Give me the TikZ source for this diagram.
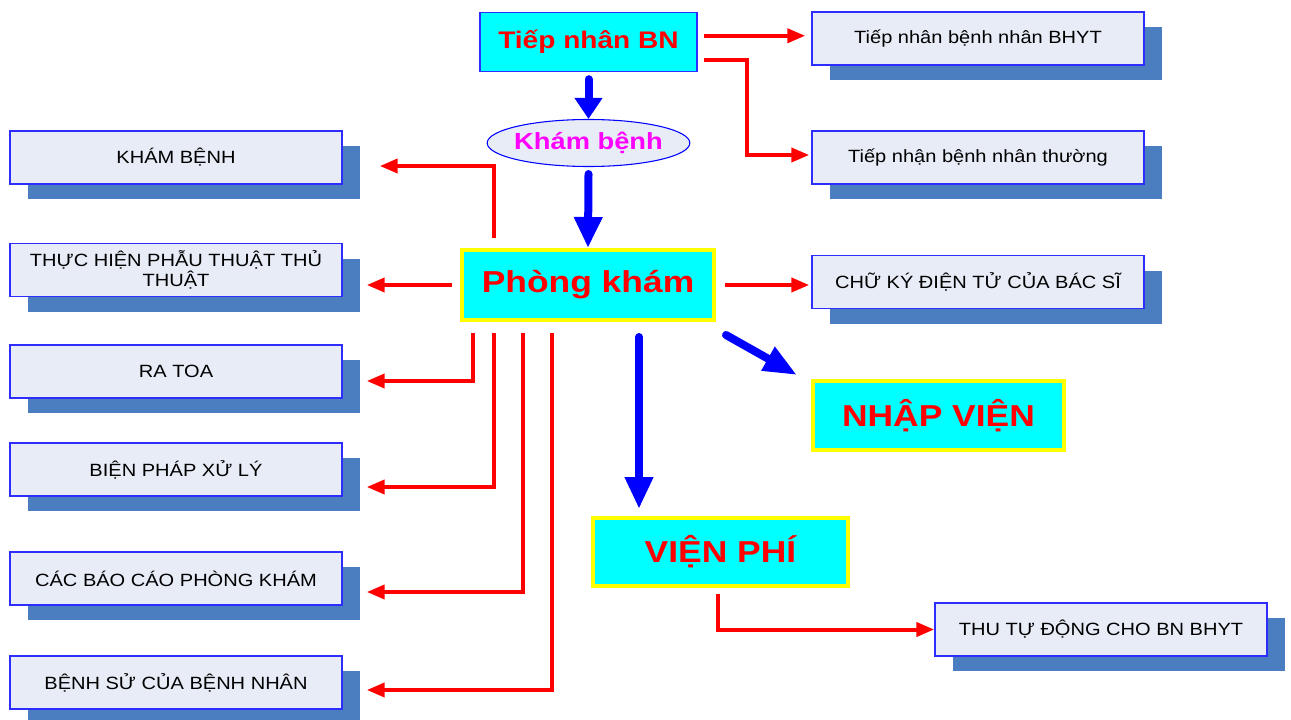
\documentclass[tikz,border=0pt]{standalone}
\usepackage{fontspec}
\setmainfont{Liberation Sans}
\newfontfamily\regw[FakeStretch=1.13]{Liberation Sans}
\newfontfamily\boldw[FakeStretch=1.17]{Liberation Sans}
\usetikzlibrary{arrows.meta,shapes.geometric,shadows,calc}
\definecolor{cyanc}{RGB}{0,255,255}
\definecolor{boxfill}{RGB}{231,236,247}
\definecolor{shadowblue}{RGB}{74,126,193}
\definecolor{boxborder}{RGB}{45,45,255}
\definecolor{redc}{RGB}{255,0,0}
\definecolor{bluec}{RGB}{0,0,255}
\definecolor{magentac}{RGB}{255,0,255}
\definecolor{yellowc}{RGB}{255,255,0}
\tikzset{
  lbox/.style={draw=boxborder, line width=1.1pt, fill=boxfill, minimum width=249pt,
    minimum height=39.75pt, inner sep=2pt, align=center, text=black,
    font=\regw\fontsize{13.3}{14.5}\selectfont,
    drop shadow={shadow xshift=13.5pt, shadow yshift=-11.25pt, fill=shadowblue, opacity=1}},
  tnbox/.style={draw=boxborder, line width=1.1pt, fill=cyanc, minimum width=162.75pt,
    minimum height=44.25pt, text=redc, font=\boldw\bfseries\fontsize{18}{21}\selectfont},
  kbell/.style={ellipse, draw=bluec, line width=0.8pt, fill=boxfill, minimum width=152pt,
    minimum height=35.25pt, inner sep=0pt, text=magentac,
    font=\boldw\bfseries\fontsize{17.5}{20}\selectfont},
  cbox/.style={draw=yellowc, line width=3pt, fill=cyanc, text=redc,
    font=\boldw\bfseries\fontsize{22.7}{27}\selectfont},
  redarr/.style={draw=redc, line width=3pt, -{Triangle[length=13.5pt,width=10.5pt]}},
  bluearr/.style={draw=bluec, line width=6pt, line cap=round, -{Triangle[length=#1,width=20pt]}},
  diagarr/.style={draw=bluec, line width=6pt, line cap=round, -{Triangle[length=25pt,width=19pt]}}
}
\begin{document}
\begin{tikzpicture}[x=0.75pt,y=-0.75pt]
\useasboundingbox (0,0) rectangle (1291,720);

% main flow
\node[tnbox] (tn) at (588.5,42) {Tiếp nhân BN};
\node[kbell] (kb) at (588.5,143) {\makebox[0pt]{Khám bệnh}};
\node[cbox, minimum width=189pt, minimum height=52.5pt] (pk) at (588,285) {Phòng khám};
\node[cbox, minimum width=188.25pt, minimum height=51.75pt] (nv) at (938.5,415.5) {NHẬP VIỆN};
\node[cbox, minimum width=191.25pt, minimum height=51pt] (vp) at (720.5,552) {VIỆN PHÍ};

% right boxes
\node[lbox] (rb1) at (978,38.5) {Tiếp nhân bệnh nhân BHYT};
\node[lbox] (rb2) at (978,157.5) {Tiếp nhận bệnh nhân thường};
\node[lbox] (rb3) at (978,282) {CHỮ KÝ ĐIỆN TỬ CỦA BÁC SĨ};
\node[lbox] (rb4) at (1101,629.5) {THU TỰ ĐỘNG CHO BN BHYT};

% left boxes
\node[lbox] (lb1) at (176,157.5) {KHÁM BỆNH};
\node[lbox] (lb2) at (176,270) {THỰC HIỆN PHẪU THUẬT THỦ\\THUẬT};
\node[lbox] (lb3) at (176,371.5) {RA TOA};
\node[lbox] (lb4) at (176,469.5) {BIỆN PHÁP XỬ LÝ};
\node[lbox] (lb5) at (176,578.5) {CÁC BÁO CÁO PHÒNG KHÁM};
\node[lbox] (lb6) at (176,682.5) {BỆNH SỬ CỦA BỆNH NHÂN};

% blue arrows
\draw[bluearr={15.75pt}] ($(tn.south)+(0,7)$) -- (kb.north);
\draw[bluearr={23.25pt}] ($(kb.south)+(0,7)$) -- (pk.north);
\draw[bluearr={24pt}] ($(pk.south)+(51,15)$) coordinate (b3s) -- ($(b3s |- vp.north)+(0,-7)$);
\draw[diagarr] ($(pk.south east)+(10,13)$) -- ($(nv.north west)+(-14,-4)$);

% red arrows, right
\draw[redarr, shorten >=4.5pt] ($(tn.north east)+(6,24)$) coordinate (r1s) -- (r1s -| rb1.west);
\draw[redarr, shorten >=1.5pt] ($(tn.north east)+(6,48)$) -- ++(43,0) |- ($(rb2.west)+(0,-2.5)$);
\draw[redarr, shorten >=1.5pt] ($(pk.east)+(9,0)$) -- (pk.east -| rb3.west);
\draw[redarr] ($(vp.south)+(-2.5,6)$) |- (rb4.west);

% red arrows, left
\draw[redarr] ($(pk.north west)+(34,-10)$) |- ($(lb1.east)+(37,8.5)$);
\draw[redarr] ($(pk.west)+(-8,0)$) -- ($(lb2.east |- pk.west)+(24,0)$);
\draw[redarr] ($(pk.south west)+(13,11)$) |- ($(lb3.east)+(24,9.5)$);
\draw[redarr] ($(pk.south west)+(34,11)$) |- ($(lb4.east)+(24,17.5)$);
\draw[redarr] ($(pk.south west)+(63,11)$) |- ($(lb5.east)+(24,13.5)$);
\draw[redarr] ($(pk.south west)+(92,11)$) |- ($(lb6.east)+(24,7.5)$);
\end{tikzpicture}
\end{document}
